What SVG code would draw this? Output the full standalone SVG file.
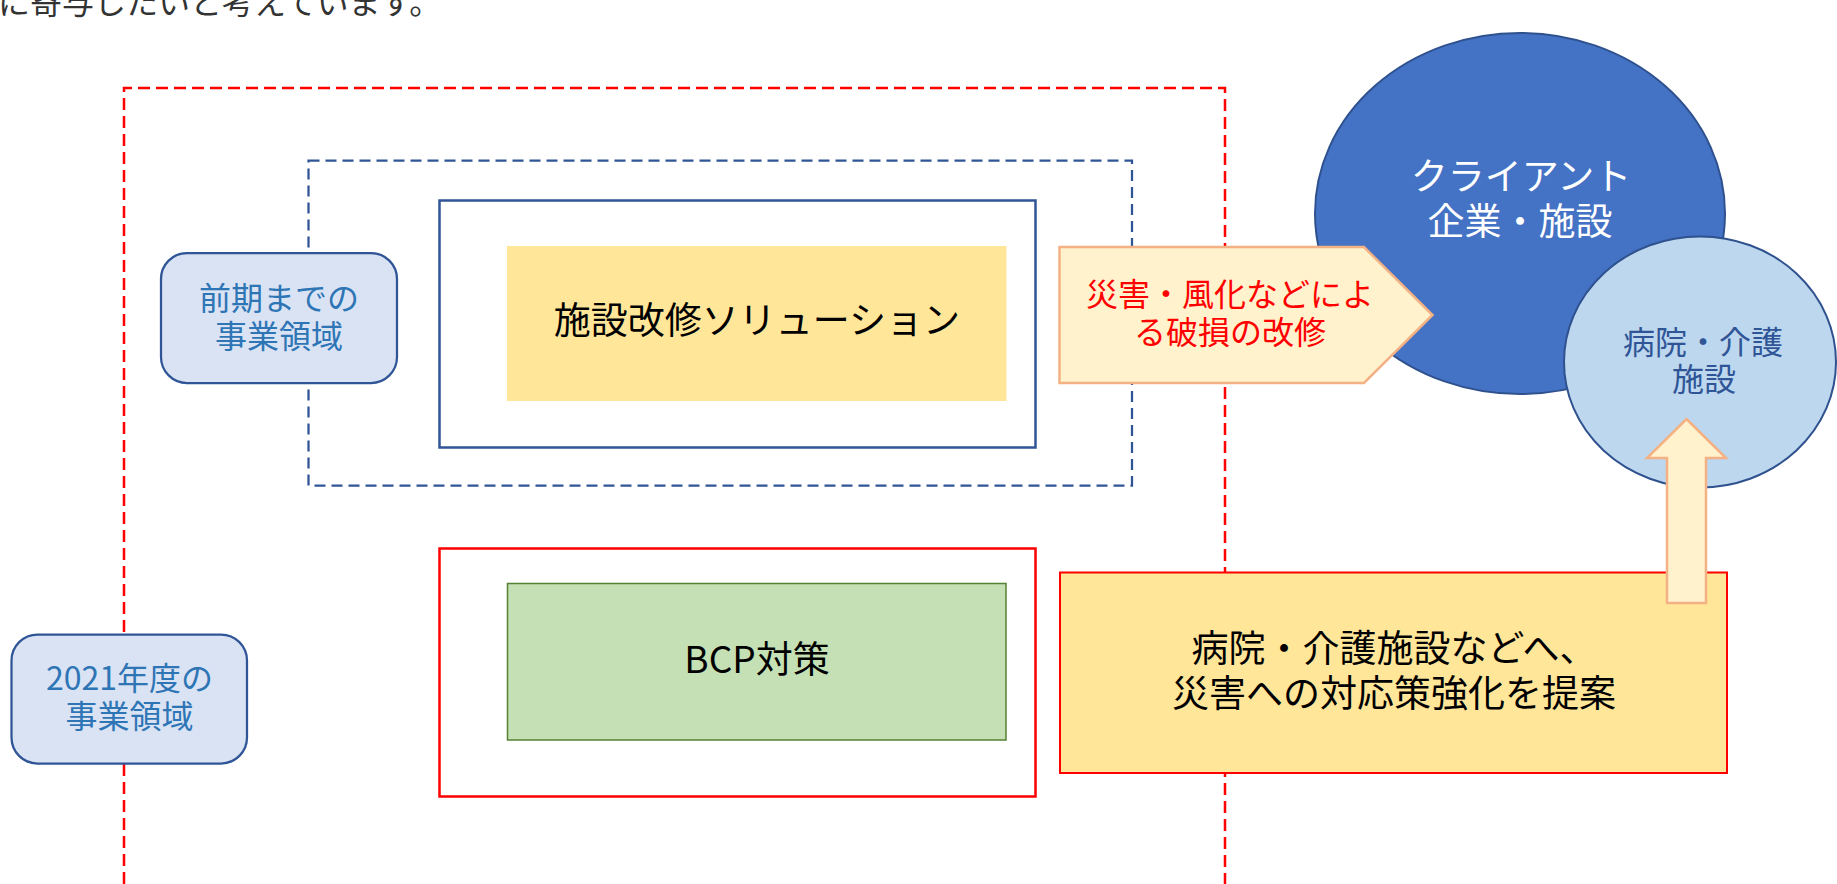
<svg xmlns="http://www.w3.org/2000/svg" width="1837" height="884" viewBox="0 0 1837 884">
<style>
text{font-family:"Noto Sans CJK JP","Noto Sans",sans-serif;text-anchor:middle;dominant-baseline:central}
.dashred{fill:none;stroke:#FF0000;stroke-width:2.5;stroke-dasharray:12 6}
.dashblue{fill:none;stroke:#2F5597;stroke-width:2.25;stroke-dasharray:11 6}
.label{fill:#DAE3F3;stroke:#2F5597;stroke-width:2.25}
.lt{fill:#2E75B6;font-size:32px}
.frameblue{fill:#FFFFFF;stroke:#2F5597;stroke-width:2.5}
.framered{fill:#FFFFFF;stroke:#FF0000;stroke-width:2.5}
.big{font-size:37px;fill:#000000}
.arrowshape{fill:#FFF2CC;stroke:#F4B183;stroke-width:2.5}
</style>
<rect width="1837" height="884" fill="#FFFFFF"/>
<text x="-2" y="14" style="text-anchor:start;dominant-baseline:auto;font-size:32px;fill:#333333">に寄与したいと考えています。</text>

<g id="region-2021">
<path class="dashred" d="M124,884 V88 H1225 V884"/>
</g>
<g id="region-previous">
<rect class="dashblue" x="308.5" y="160.5" width="823.5" height="325"/>
</g>
<g id="label-previous">
<rect class="label" x="161" y="253" width="236" height="130" rx="26" ry="26"/>
<text class="lt"><tspan x="279" y="296">前期までの</tspan><tspan x="279" y="334">事業領域</tspan></text>
</g>
<g id="label-2021">
<rect class="label" x="11.5" y="634.5" width="235.5" height="129" rx="26" ry="26"/>
<text class="lt"><tspan x="129.5" y="676">2021年度の</tspan><tspan x="129.5" y="714">事業領域</tspan></text>
</g>
<g id="renovation">
<rect class="frameblue" x="439.5" y="200.5" width="596" height="247"/>
<rect x="507" y="246" width="499.5" height="155" fill="#FFE699"/>
<text class="big" x="757" y="318">施設改修ソリューション</text>
</g>
<g id="bcp">
<rect class="framered" x="439.5" y="548.5" width="596" height="248"/>
<rect x="507.5" y="583.5" width="498.5" height="156.5" fill="#C5E0B4" stroke="#548235" stroke-width="1.5"/>
<text class="big" x="757" y="657">BCP対策</text>
</g>
<g id="client">
<ellipse cx="1520" cy="213.5" rx="205" ry="180.5" fill="#4472C4" stroke="#2F528F" stroke-width="2"/>
<text style="font-size:37px;fill:#FFFFFF"><tspan x="1521" y="174">クライアント</tspan><tspan x="1520" y="219">企業・施設</tspan></text>
</g>
<g id="repair">
<polygon class="arrowshape" points="1059.5,247 1364,247 1432.5,315 1364,383 1059.5,383"/>
<text style="font-size:32px;fill:#FF0000"><tspan x="1230" y="292">災害・風化などによ</tspan><tspan x="1230" y="330">る破損の改修</tspan></text>
</g>
<g id="hospital">
<ellipse cx="1700" cy="362" rx="136" ry="125.5" fill="#BDD7EE" stroke="#2F528F" stroke-width="2"/>
<text style="font-size:32px;fill:#2F5597"><tspan x="1703" y="340">病院・介護</tspan><tspan x="1704" y="377">施設</tspan></text>
</g>
<g id="proposal">
<rect x="1060" y="572.5" width="667" height="200.5" fill="#FFE699" stroke="#FF0000" stroke-width="2"/>
<text class="big"><tspan x="1394" y="646">病院・介護施設などへ、</tspan><tspan x="1394" y="691">災害への対応策強化を提案</tspan></text>
</g>
<g id="connectors">
<polygon class="arrowshape" points="1686.5,419 1726,458 1706,458 1706,603 1667,603 1667,458 1647,458"/>
</g>
</svg>
